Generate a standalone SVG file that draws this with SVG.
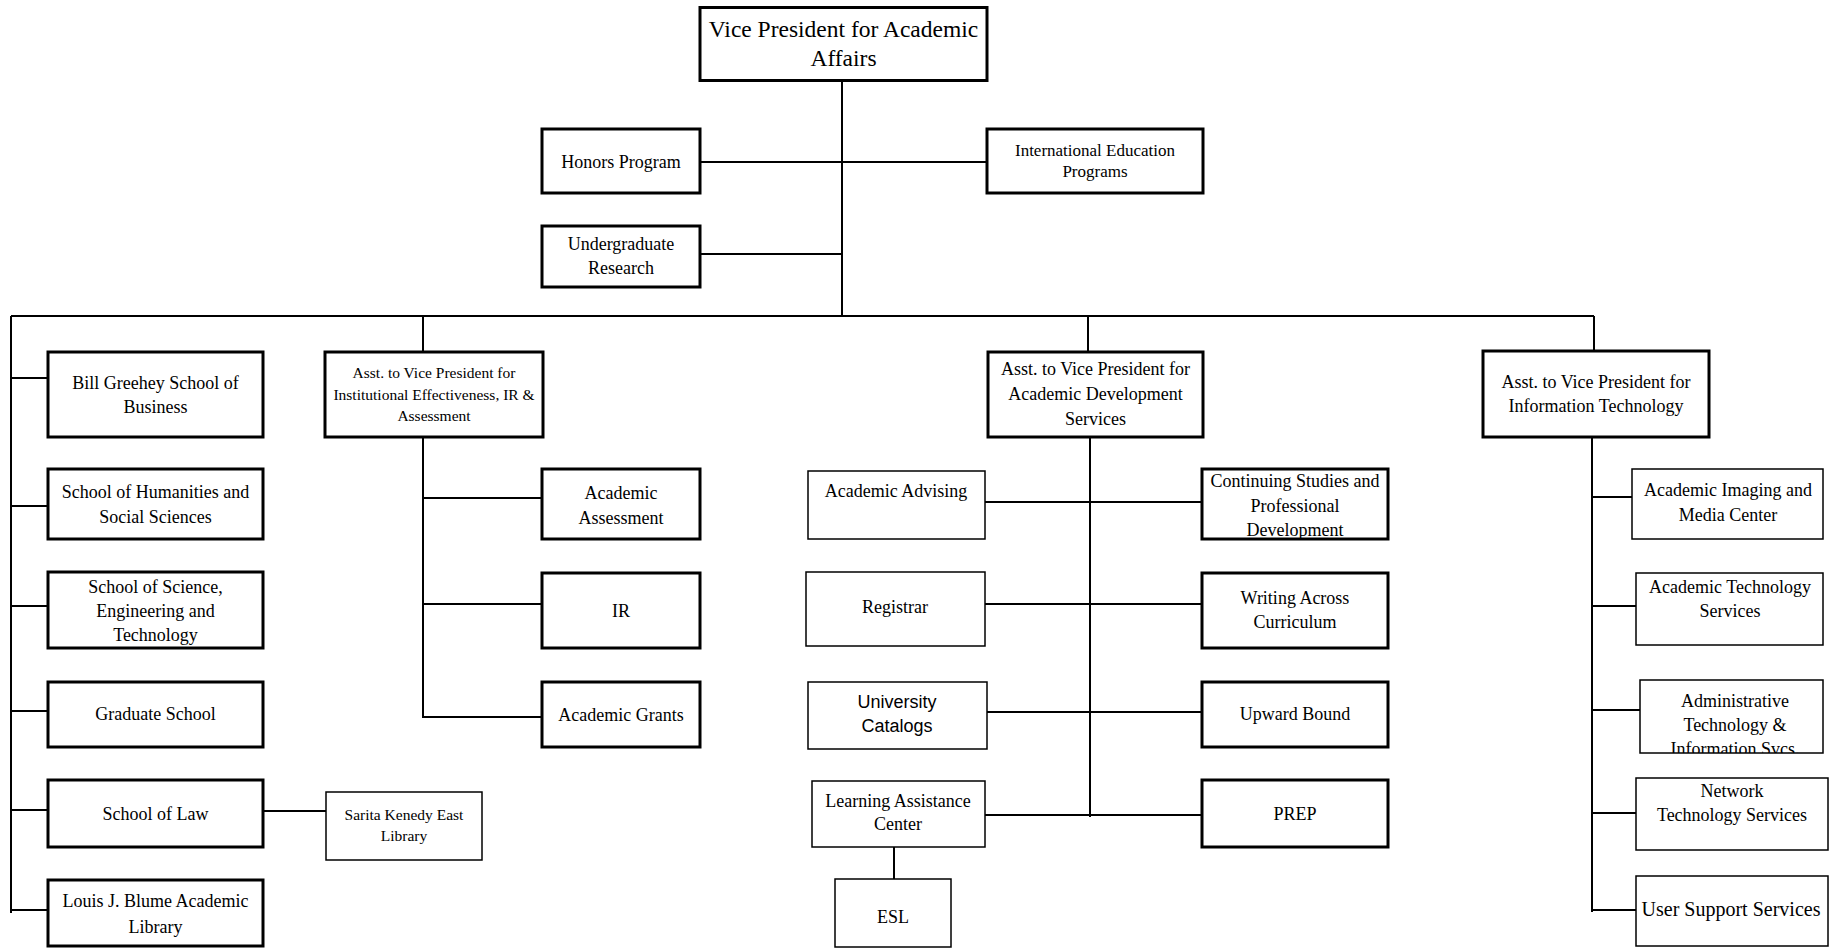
<svg xmlns="http://www.w3.org/2000/svg" width="1841" height="949" viewBox="0 0 1841 949">
<style>
.b{fill:#fff;stroke:#000;stroke-width:3}
.s{fill:#fff;stroke:#000;stroke-width:1.5}
text{font-family:"Liberation Serif","Times New Roman",serif;font-size:18px;text-anchor:middle;fill:#000}
.sans{font-family:"Liberation Sans",Arial,sans-serif}
.c{fill:none;stroke:#000;stroke-width:2}
</style>
<defs>
<clipPath id="clipAdmin"><rect x="1640" y="680" width="183" height="73"/></clipPath>
</defs>
<rect width="1841" height="949" fill="#fff"/>
<g id="connectors" class="c">
<path d="M842 81V316"/>
<path d="M700 162H987"/>
<path d="M700 254H842"/>
<path d="M11 316H1594"/>
<path d="M11 316V913"/>
<path d="M11 378H48M11 506H48M11 606H48M11 711H48M11 810H48M11 910H48"/>
<path d="M260 811H326"/>
<path d="M423 316V352"/>
<path d="M423 437V718"/>
<path d="M423 498H542M423 604H542M423 717H542"/>
<path d="M1088 316V352"/>
<path d="M1090 437V817"/>
<path d="M985 502H1202M985 604H1202M987 712H1202M985 815H1202"/>
<path d="M894 847V879"/>
<path d="M1594 316V351"/>
<path d="M1592 437V912"/>
<path d="M1592 497H1632M1592 606H1636M1592 710H1640M1592 813H1636M1592 910H1636"/>
</g>
<g id="vp"><rect class="b" x="700" y="7.5" width="287" height="73"/><text x="843.5" y="36.5" style="font-size:23.5px">Vice President for Academic</text><text x="843.5" y="66" style="font-size:23.5px">Affairs</text></g>
<g id="honors"><rect class="b" x="542" y="129" width="158" height="64"/><text x="621" y="168">Honors Program</text></g>
<g id="intl"><rect class="b" x="987" y="129" width="216" height="64"/><text x="1095" y="156" style="font-size:17px">International Education</text><text x="1095" y="177" style="font-size:17px">Programs</text></g>
<g id="ugr"><rect class="b" x="542" y="226" width="158" height="61"/><text x="621" y="250">Undergraduate</text><text x="621" y="274">Research</text></g>
<g id="greehey"><rect class="b" x="48" y="352" width="215" height="85"/><text x="155.5" y="389">Bill Greehey School of</text><text x="155.5" y="413">Business</text></g>
<g id="humanities"><rect class="b" x="48" y="469" width="215" height="70"/><text x="155.5" y="498">School of Humanities and</text><text x="155.5" y="523">Social Sciences</text></g>
<g id="science"><rect class="b" x="48" y="572" width="215" height="76"/><text x="155.5" y="593">School of Science,</text><text x="155.5" y="617">Engineering and</text><text x="155.5" y="641">Technology</text></g>
<g id="grad"><rect class="b" x="48" y="682" width="215" height="65"/><text x="155.5" y="720">Graduate School</text></g>
<g id="law"><rect class="b" x="48" y="780" width="215" height="67"/><text x="155.5" y="820">School of Law</text></g>
<g id="sarita"><rect class="s" x="326" y="792" width="156" height="68"/><text x="404" y="820" style="font-size:15.5px">Sarita Kenedy East</text><text x="404" y="841" style="font-size:15.5px">Library</text></g>
<g id="blume"><rect class="b" x="48" y="880" width="215" height="66"/><text x="155.5" y="907">Louis J. Blume Academic</text><text x="155.5" y="933">Library</text></g>
<g id="ie"><rect class="b" x="325" y="352" width="218" height="85"/><text x="434" y="378" style="font-size:15.5px">Asst. to Vice President for</text><text x="434" y="400" style="font-size:15.5px">Institutional Effectiveness, IR &amp;</text><text x="434" y="421" style="font-size:15.5px">Assessment</text></g>
<g id="aassess"><rect class="b" x="542" y="469" width="158" height="70"/><text x="621" y="499">Academic</text><text x="621" y="524">Assessment</text></g>
<g id="ir"><rect class="b" x="542" y="573" width="158" height="75"/><text x="621" y="617">IR</text></g>
<g id="grants"><rect class="b" x="542" y="682" width="158" height="65"/><text x="621" y="721">Academic Grants</text></g>
<g id="ads"><rect class="b" x="988" y="352" width="215" height="85"/><text x="1095.5" y="375">Asst. to Vice President for</text><text x="1095.5" y="400">Academic Development</text><text x="1095.5" y="425">Services</text></g>
<g id="advising"><rect class="s" x="808" y="471" width="177" height="68"/><text x="896" y="497">Academic Advising</text></g>
<g id="continuing"><rect class="b" x="1202" y="469" width="186" height="70"/><text x="1295" y="487">Continuing Studies and</text><text x="1295" y="512">Professional</text><text x="1295" y="536">Development</text></g>
<g id="registrar"><rect class="s" x="806" y="572" width="179" height="74"/><text x="895" y="613">Registrar</text></g>
<g id="writing"><rect class="b" x="1202" y="573" width="186" height="75"/><text x="1295" y="604">Writing Across</text><text x="1295" y="628">Curriculum</text></g>
<g id="catalogs"><rect class="s" x="808" y="682" width="179" height="67"/><text class="sans" x="897" y="708">University</text><text class="sans" x="897" y="732">Catalogs</text></g>
<g id="upward"><rect class="b" x="1202" y="682" width="186" height="65"/><text x="1295" y="720">Upward Bound</text></g>
<g id="lac"><rect class="s" x="812" y="781" width="173" height="66"/><text x="898" y="807">Learning Assistance</text><text x="898" y="830">Center</text></g>
<g id="prep"><rect class="b" x="1202" y="780" width="186" height="67"/><text x="1295" y="820">PREP</text></g>
<g id="esl"><rect class="s" x="835" y="879" width="116" height="68"/><text x="893" y="923">ESL</text></g>
<g id="it"><rect class="b" x="1483" y="351" width="226" height="86"/><text x="1596" y="388">Asst. to Vice President for</text><text x="1596" y="412">Information Technology</text></g>
<g id="aimc"><rect class="s" x="1632" y="469" width="191" height="70"/><text x="1728" y="496">Academic Imaging and</text><text x="1728" y="521">Media Center</text></g>
<g id="ats"><rect class="s" x="1636" y="573" width="187" height="72"/><text x="1730" y="593">Academic Technology</text><text x="1730" y="617">Services</text></g>
<g id="admin"><rect class="s" x="1640" y="680" width="183" height="73"/><text x="1735" y="707">Administrative</text><text x="1735" y="731">Technology &amp;</text><text x="1735" y="755" clip-path="url(#clipAdmin)">Information Svcs.</text></g>
<g id="nts"><rect class="s" x="1636" y="778" width="192" height="72"/><text x="1732" y="797">Network</text><text x="1732" y="821">Technology Services</text></g>
<g id="uss"><rect class="s" x="1636" y="876" width="192" height="70"/><text x="1731" y="916" style="font-size:20px">User Support Services</text></g>
</svg>
